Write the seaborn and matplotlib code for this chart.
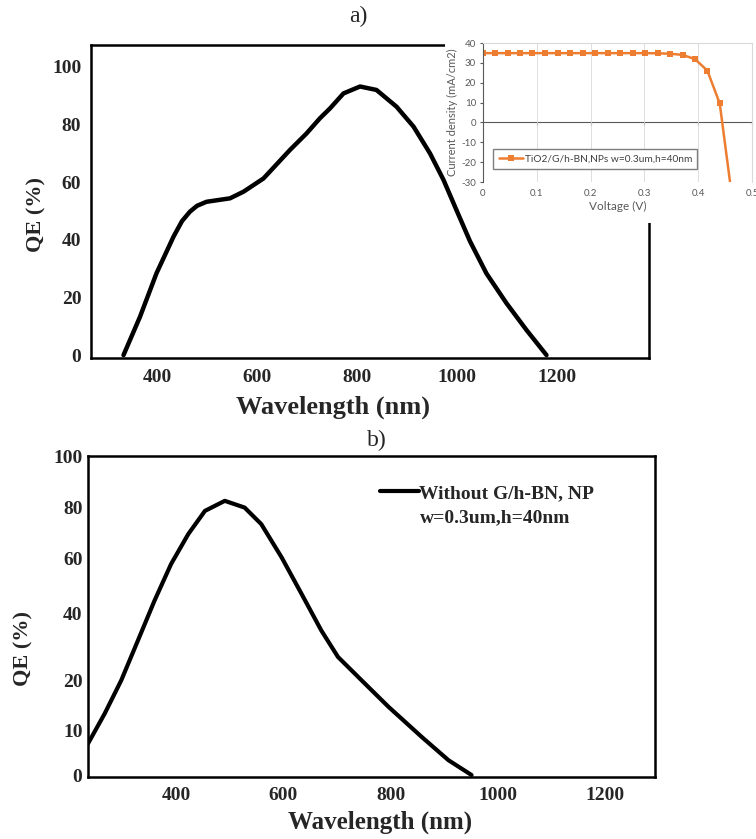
import numpy as np
import matplotlib
matplotlib.use("Agg")
import matplotlib.pyplot as plt
from matplotlib.patches import Rectangle
import seaborn as sns

# ---- data ----
# a) QE with G/h-BN nanoparticles
wl_a = [333, 366, 399, 433, 450, 466, 480, 499, 546, 573, 613, 666, 699, 726,
        746, 773, 806, 839, 879, 913, 946, 973, 999, 1026, 1059, 1099, 1139, 1179]
qe_a = [0, 13.3, 28.4, 41.1, 46.5, 49.8, 51.8, 53.2, 54.4, 56.7, 61.3, 71.2, 76.9, 82.2,
        85.6, 90.8, 93.2, 92.0, 86.2, 79.3, 70.0, 60.8, 50.3, 39.5, 28.3, 18.0, 8.7, 0]

# inset: J-V curve
volt = [0, 0.023, 0.046, 0.069, 0.092, 0.116, 0.139, 0.162, 0.185, 0.208, 0.232,
        0.255, 0.278, 0.301, 0.325, 0.348, 0.371, 0.394, 0.417, 0.440, 0.464]
jsc = [34.9, 34.9, 34.9, 34.9, 34.9, 34.9, 34.9, 34.9, 34.9, 34.9, 34.9,
       34.9, 34.9, 34.9, 34.8, 34.6, 34.0, 31.9, 26.1, 9.6, -40.0]
v_ticks = [0, 0.1, 0.2, 0.3, 0.4, 0.5]
v_labels = ["0", "0.1", "0.2", "0.3", "0.4", "0.5"]
j_ticks = [-30, -20, -10, 0, 10, 20, 30, 40]

# b) QE without G/h-BN
wl_b = [236, 267, 298, 329, 360, 391, 423, 454, 491, 528, 559, 597, 634, 671,
        702, 746, 796, 858, 908, 951]
qe_b = [7.0, 13.3, 20.0, 31.9, 44.7, 58.1, 69.7, 78.8, 82.7, 80.1, 73.6, 60.5, 47.2, 34.9,
        27.0, 20.0, 14.7, 8.5, 3.3, 0]

wl_ticks = [400, 600, 800, 1000, 1200]
qe_ticks_a = [0, 20, 40, 60, 80, 100]
qe_ticks_b = [0, 10, 20, 40, 60, 80, 100]
# the b) axis in the source is unevenly spaced: height (px) of each tick above the x axis
qe_ticks_b_px = [2, 47, 97, 164, 219, 270, 322]

sns.set_style("white")
plt.rcParams["font.family"] = ["Liberation Serif", "DejaVu Serif"]
plt.rcParams["font.weight"] = "bold"
plt.rcParams["axes.labelweight"] = "bold"
plt.rcParams["lines.solid_joinstyle"] = "round"
plt.rcParams["lines.solid_capstyle"] = "round"

W, H = 756, 839


def box(l, t, r, b):
    return [l / W, 1 - b / H, (r - l) / W, (b - t) / H]


def fwd(v):
    v = np.asarray(v, dtype=float)
    lo = qe_ticks_b_px[0] + v * 4.5
    hi = qe_ticks_b_px[-1] + (v - 100) * 2.6
    mid = np.interp(v, qe_ticks_b, qe_ticks_b_px)
    return np.where(v < 0, lo, np.where(v > 100, hi, mid))


def inv(p):
    p = np.asarray(p, dtype=float)
    lo = (p - qe_ticks_b_px[0]) / 4.5
    hi = 100 + (p - qe_ticks_b_px[-1]) / 2.6
    mid = np.interp(p, qe_ticks_b_px, qe_ticks_b)
    return np.where(p < qe_ticks_b_px[0], lo, np.where(p > qe_ticks_b_px[-1], hi, mid))


fig = plt.figure(figsize=(W / 100, H / 100), dpi=100)

# ---------------- panel a ----------------
ax_a = fig.add_axes(box(91, 45, 649, 358))
sns.lineplot(x=wl_a, y=qe_a, ax=ax_a, color="black", lw=3.2, zorder=4)
ax_a.set_xlim(268, 1384)
ax_a.set_ylim(-1, 107.6)
ax_a.set_xticks(wl_ticks)
ax_a.set_yticks(qe_ticks_a)
ax_a.tick_params(axis="both", length=0, labelsize=14)
ax_a.tick_params(axis="x", pad=8)
ax_a.tick_params(axis="y", pad=7)
for s in ax_a.spines.values():
    s.set_color("black")
    s.set_linewidth(1.8)
ax_a.set_xlabel("Wavelength (nm)", fontsize=19, fontweight="bold")
ax_a.xaxis.set_label_coords(0.434, -0.12)
ax_a.set_ylabel("QE (%)", fontsize=16, fontweight="bold")
ax_a.yaxis.set_label_coords(-0.08, 0.457)

# white chart area of the inset hides the frame but not the curve
bg = Rectangle((445 / W, 1 - 223 / H), 311 / W, 193 / H, transform=fig.transFigure,
               facecolor="white", edgecolor="none", zorder=2.8, clip_on=False)
ax_a.add_artist(bg)

# ---------------- inset ----------------
grey = "#595959"
ax_in = fig.add_axes(box(483, 43, 752, 182))
ax_in.set_facecolor("white")
sns.lineplot(x=volt, y=jsc, ax=ax_in, color="#ED7D31", lw=1.8, marker="s",
             markersize=4.5, markeredgewidth=0, label="TiO2/G/h-BN,NPs w=0.3um,h=40nm")
ax_in.set_xlim(0, 0.5)
ax_in.set_ylim(-30, 40)
ax_in.set_xticks(v_ticks, v_labels, fontsize=7, color=grey, fontfamily="Lato", fontweight="normal")
ax_in.set_yticks(j_ticks, [str(t) for t in j_ticks], fontsize=7, color=grey,
                 fontfamily="Lato", fontweight="normal")
ax_in.tick_params(axis="x", length=0, pad=5)
ax_in.tick_params(axis="y", length=2, direction="out", color=grey, width=0.8, pad=3, left=True)
ax_in.grid(axis="x", color="#D9D9D9", lw=0.6)
ax_in.spines["left"].set_color(grey)
ax_in.spines["left"].set_linewidth(0.8)
ax_in.spines["top"].set_color("#D9D9D9")
ax_in.spines["right"].set_color("#D9D9D9")
ax_in.spines["bottom"].set_visible(False)
zero = ax_in.secondary_xaxis(30 / 70)
zero.set_xticks(v_ticks[1:], [])
zero.tick_params(length=2.5, direction="out", color=grey, width=0.8)
zero.spines["bottom"].set_color(grey)
zero.spines["bottom"].set_linewidth(0.8)
ax_in.set_xlabel("Voltage (V)", fontsize=8.5, color=grey, fontfamily="Lato",
                 fontweight="normal", labelpad=2)
ax_in.set_ylabel("Current density (mA/cm2)", fontsize=8, color=grey, fontfamily="Lato",
                 fontweight="normal", labelpad=2)
ax_in.legend(loc="lower left", bbox_to_anchor=(0.02, 0.06), frameon=True, fancybox=False,
             edgecolor="#7F7F7F", framealpha=1, borderpad=0.5, handlelength=2.4,
             handletextpad=0.2, labelcolor="#404040",
             prop={"family": "Lato", "size": 7.3, "weight": "normal"})

# ---------------- panel b ----------------
ax_b = fig.add_axes(box(88, 456, 655, 777))
sns.lineplot(x=wl_b, y=qe_b, ax=ax_b, color="black", lw=3.0, label="Without G/h-BN, NP")
ax_b.set_yscale("function", functions=(fwd, inv))
ax_b.set_xlim(236, 1293)
ax_b.set_ylim(-0.44, 99.8)
ax_b.set_xticks(wl_ticks)
ax_b.set_yticks(qe_ticks_b, [str(t) for t in qe_ticks_b])
ax_b.yaxis.set_minor_locator(matplotlib.ticker.NullLocator())
ax_b.tick_params(axis="both", length=0, labelsize=14)
ax_b.tick_params(axis="x", pad=7)
ax_b.tick_params(axis="y", pad=4)
for s in ax_b.spines.values():
    s.set_color("black")
    s.set_linewidth(1.8)
ax_b.set_xlabel("Wavelength (nm)", fontsize=18, fontweight="bold")
ax_b.xaxis.set_label_coords(0.515, -0.105)
ax_b.set_ylabel("QE (%)", fontsize=16, fontweight="bold")
ax_b.yaxis.set_label_coords(-0.097, 0.40)
ax_b.legend(loc="center left", bbox_to_anchor=((380 - 88) / 567, (777 - 493) / 321),
            frameon=False, handlelength=2.0, handletextpad=0, borderpad=0, borderaxespad=0,
            prop={"family": "Liberation Serif", "size": 14, "weight": "bold"})
ax_b.text((420 - 88) / 567, (777 - 518) / 321, "w=0.3um,h=40nm", transform=ax_b.transAxes,
          ha="left", va="center", fontsize=14, fontweight="bold")

fig.text(358 / W, 1 - 16 / H, "a)", ha="center", va="center", fontsize=17, fontweight="normal")
fig.text(377 / W, 1 - 440 / H, "b)", ha="center", va="center", fontsize=17, fontweight="normal")

fig.savefig("out.png", dpi=100)
